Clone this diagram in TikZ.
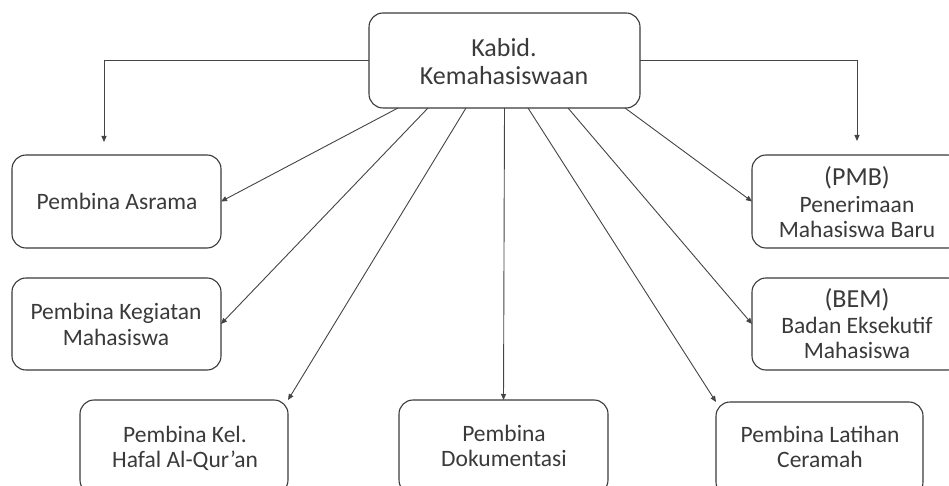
\documentclass[tikz,border=0pt]{standalone}
\usepackage{fontspec}
\setmainfont{Carlito}
\usetikzlibrary{arrows.meta}
\definecolor{ink}{HTML}{3A3A3A}
\definecolor{wire}{HTML}{444444}
\tikzset{
  orgbox/.style={draw=ink, line width=1.1pt, rounded corners=14pt, inner sep=0pt, outer sep=0pt, fill=white},
  txt/.style={anchor=base, inner sep=0pt, text=ink, font=\fontsize{23.5}{25}\selectfont},
  bigtxt/.style={anchor=base, inner sep=0pt, text=ink, font=\fontsize{26}{28}\selectfont},
  conn/.style={draw=wire, line width=0.9pt, -{Triangle[length=6pt,width=5pt]}}
}
\begin{document}
\begin{tikzpicture}[x=1pt,y=-1pt]
\path[use as bounding box] (0,0) rectangle (949,486);
\clip (0,0) rectangle (949,486);
% boxes
\node[orgbox, minimum width=271, minimum height=95] (top) at (504.5,60.5) {};
\node[orgbox, minimum width=209, minimum height=93] (asrama) at (116.5,201.5) {};
\node[orgbox, minimum width=209, minimum height=92] (kegiatan) at (116.5,324) {};
\node[orgbox, minimum width=208, minimum height=94] (hafal) at (184,447) {};
\node[orgbox, minimum width=209, minimum height=94] (dok) at (503.5,447) {};
\node[orgbox, minimum width=207, minimum height=94] (latihan) at (819.5,449) {};
\node[orgbox, minimum width=210, minimum height=93] (pmb) at (857,201.5) {};
\node[orgbox, minimum width=210, minimum height=92] (bem) at (857,324) {};
% texts
\node[bigtxt] (t1) at (504,57) {Kabid.};
\node[bigtxt] (t2) at (504,85) {Kemahasiswaan};
\node[txt] (t3) at (117,210) {Pembina Asrama};
\node[txt] (t4) at (116,319) {Pembina Kegiatan};
\node[txt] (t5) at (116,345) {Mahasiswa};
\node[txt] (t6) at (185,442) {Pembina Kel.};
\node[txt] (t7) at (185,467) {Hafal Al-Qur’an};
\node[txt] (t8) at (504,441) {Pembina};
\node[txt] (t9) at (504,466) {Dokumentasi};
\node[txt] (t10) at (820,442) {Pembina Latihan};
\node[txt] (t11) at (820,467) {Ceramah};
\node[bigtxt] (t12) at (857,186) {(PMB)};
\node[txt] (t13) at (857,212) {Penerimaan};
\node[txt] (t14) at (857,237) {Mahasiswa Baru};
\node[bigtxt] (t15) at (857,307) {(BEM)};
\node[txt] (t16) at (857,333) {Badan Eksekutif};
\node[txt] (t17) at (857,358) {Mahasiswa};
% connector ends
\coordinate (aL) at (104,142);
\coordinate (aR) at (857,141);
% connectors
\draw[conn] (top.west) -| (aL);
\draw[conn] (top.east) -| (aR);
\draw[conn] ([xshift=29pt]top.south west) -- (asrama.east);
\draw[conn] ([xshift=59pt]top.south west) -- (kegiatan.east);
\draw[conn] ([xshift=97pt]top.south west) -- (hafal.north east);
\draw[conn] (top.south) -- (dok.north);
\draw[conn] ([xshift=159pt]top.south west) -- (latihan.north west);
\draw[conn] ([xshift=199pt]top.south west) -- (bem.west);
\draw[conn] ([xshift=-15pt]top.south east) -- (pmb.west);
\end{tikzpicture}
\end{document}
